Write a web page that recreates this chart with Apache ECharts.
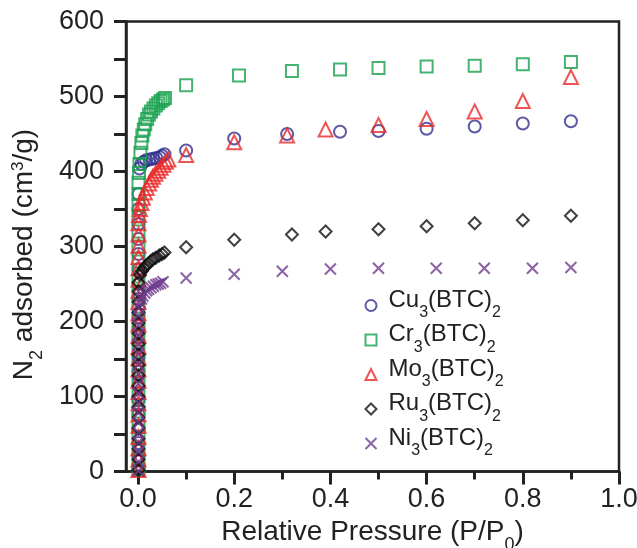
<!DOCTYPE html>
<html>
<head>
<meta charset="utf-8">
<script src="https://cdn.jsdelivr.net/npm/echarts@6/dist/echarts.min.js"></script>
<style>
html,body{margin:0;padding:0;background:#fff;}
#chart{width:637px;height:548px;}
</style>
</head>
<body>
<div id="chart"></div>
<script>
// ---------- data ----------
var seriesNames = ['Cu3(BTC)2', 'Cr3(BTC)2', 'Mo3(BTC)2', 'Ru3(BTC)2', 'Ni3(BTC)2'];

var cuP = [0.001,0.001,0.001,0.001,0.001,0.001,0.001,0.001,0.001,0.001,0.001,0.001,0.001,0.001,0.001,0.001,0.001,0.001,0.001,0.001,
           0.003,0.007,0.012,0.017,0.024,0.031,0.038,0.045,0.050,0.055,
           0.10,0.20,0.31,0.42,0.50,0.60,0.70,0.80,0.90];
var cuV = [3,20,38,57,76,95,114,133,152,171,190,210,230,250,270,290,310,330,350,370,
           404,410,413,415,416,417,418,419,421,423,
           428,444,450,453,454,457,460,464,467];

var crP = [0.001,0.001,0.001,0.001,0.001,0.001,0.001,0.001,0.001,0.001,0.001,0.001,0.001,0.001,0.001,0.001,0.001,0.001,0.001,0.001,0.001,0.001,
           0.002,0.003,0.005,0.007,0.009,0.012,0.015,0.019,0.023,0.027,0.032,0.037,0.042,0.047,0.052,0.056,
           0.10,0.21,0.32,0.42,0.50,0.60,0.70,0.80,0.90];
var crV = [2,15,30,45,60,80,100,120,140,160,180,200,220,240,260,280,300,320,340,355,370,385,
           398,410,425,438,448,456,463,470,476,480,484,488,491,494,496,498,
           515,528,534,536,538,540,541,543,546];

var moP = [0.001,0.001,0.001,0.001,0.001,0.001,0.001,0.001,0.001,0.001,0.001,0.001,0.001,0.001,0.001,0.001,0.001,0.001,0.001,0.001,0.001,0.001,0.001,
           0.002,0.004,0.007,0.010,0.014,0.018,0.023,0.027,0.031,0.036,0.042,0.047,0.053,0.058,0.063,
           0.10,0.20,0.31,0.39,0.50,0.60,0.70,0.80,0.90];
var moV = [2,16,31,46,61,76,91,106,121,136,151,166,181,196,211,226,241,256,271,286,301,316,331,
           342,350,358,365,372,378,384,389,393,397,401,405,409,413,416,
           422,439,448,456,462,470,480,494,526];

var ruP = [0.001,0.001,0.001,0.001,0.001,0.001,0.001,0.001,0.001,0.001,0.001,0.001,0.001,0.001,0.001,0.001,0.001,0.001,
           0.001,0.004,0.008,0.012,0.016,0.021,0.026,0.031,0.037,0.044,0.050,0.055,
           0.10,0.20,0.32,0.39,0.50,0.60,0.70,0.80,0.90];
var ruV = [2,16,30,44,58,72,86,100,114,128,142,156,170,184,198,212,226,240,
           252,262,267,271,274,277,280,283,285,288,290,292,
           299,309,316,320,323,327,331,335,341];

var niP = [0.001,0.001,0.001,0.001,0.001,0.001,0.001,0.001,0.001,0.001,0.001,0.001,0.001,0.001,0.001,0.001,0.001,
           0.002,0.004,0.007,0.010,0.014,0.018,0.022,0.027,0.032,0.037,0.042,0.047,0.052,
           0.10,0.20,0.30,0.40,0.50,0.62,0.72,0.82,0.90];
var niV = [1,13,26,39,52,65,78,91,104,117,130,143,156,169,182,195,208,
           218,225,230,234,238,241,243,245,247,249,250,251,253,
           258,263,267,270,271,271,271,271,272];

var xMajorTicks = [0, 0.2, 0.4, 0.6, 0.8, 1.0];
var xMinorTicks = [0.1, 0.3, 0.5, 0.7, 0.9];

// ---------- build ----------
function pairs(p, v) { var out = []; for (var i = 0; i < p.length; i++) out.push([p[i], v[i]]); return out; }

var FONT = 'Liberation Sans, Arial, Helvetica, sans-serif';
var AX = '#222';
var colors = {Cu: '#33308e', Cr: '#17a04c', Mo: '#ea2a2a', Ru: '#111111', Ni: '#6e3b8f'};
var crossPath = 'path://M0,0L10,10M0,10L10,0';

function mk(name, data, symbol, size, color) {
  return {
    type: 'scatter', name: name, data: data, symbol: symbol, symbolSize: size,
    itemStyle: {color: 'rgba(0,0,0,0)', borderColor: color, borderWidth: 2},
    emphasis: {disabled: true}, animation: false
  };
}

// draw order (bottom to top)
var series = [
  mk(seriesNames[0], pairs(cuP, cuV), 'circle', 12, colors.Cu),
  mk(seriesNames[1], pairs(crP, crV), 'rect', 12, colors.Cr),
  mk(seriesNames[2], pairs(moP, moV), 'triangle', 14, colors.Mo),
  mk(seriesNames[3], pairs(ruP, ruV), 'diamond', 12, colors.Ru),
  mk(seriesNames[4], pairs(niP, niV), crossPath, 11, colors.Ni)
];

function richName(n) {
  var m = n.match(/^([A-Za-z]+)(\d)(\(BTC\))(\d)$/);
  return '{n|' + m[1] + '}{s|' + m[2] + '}{n|' + m[3] + '}{s|' + m[4] + '}';
}

var chart = echarts.init(document.getElementById('chart'), null, {renderer: 'canvas'});
chart.setOption({
  backgroundColor: '#fff',
  animation: false,
  grid: {left: 126, right: 18, top: 21.5, bottom: 76.5, show: true, borderColor: AX, borderWidth: 2.5,
    backgroundColor: 'transparent', containLabel: false, outerBoundsMode: 'none'},
  legend: {
    data: seriesNames,
    orient: 'vertical', left: 359.5, top: 283,
    itemWidth: 11, itemHeight: 11, itemGap: 1.5,
    selectedMode: false,
    formatter: function (n) { return richName(n); },
    textStyle: {
      fontFamily: FONT, color: AX, padding: [0, 0, 0, 7],
      rich: {
        n: {fontFamily: FONT, fontSize: 24, color: AX, lineHeight: 35, verticalAlign: 'top'},
        s: {fontFamily: FONT, fontSize: 16, color: AX, lineHeight: 14, verticalAlign: 'top', padding: [17, 0, 0, 0]}
      }
    }
  },
  xAxis: [{
    type: 'value', min: -0.025, max: 1.0, position: 'bottom',
    axisLine: {show: true, onZero: false, lineStyle: {color: AX, width: 2.5}},
    axisTick: {show: true, inside: false, length: 13, customValues: xMajorTicks, lineStyle: {color: AX, width: 3}},
    axisLabel: {show: true, customValues: xMajorTicks, margin: 15, fontFamily: FONT, fontSize: 27, color: AX,
      formatter: function (v) { return v.toFixed(1); }},
    splitLine: {show: false},
    name: '{n|Relative Pressure (P/P}{s|0}{n|)}', nameLocation: 'middle', nameGap: 38,
    nameTextStyle: {rich: {
      n: {fontFamily: FONT, fontSize: 28, color: AX, lineHeight: 30, verticalAlign: 'top'},
      s: {fontFamily: FONT, fontSize: 18, color: AX, lineHeight: 16, verticalAlign: 'top', padding: [18, 0, 0, 0]}
    }}
  }, {
    type: 'value', min: -0.025, max: 1.0, position: 'bottom',
    axisLine: {show: false, onZero: false},
    axisTick: {show: true, inside: false, length: 8, customValues: xMinorTicks, lineStyle: {color: AX, width: 3}},
    axisLabel: {show: false},
    splitLine: {show: false}
  }],
  yAxis: {
    type: 'value', min: 0, max: 600, interval: 100,
    axisLine: {show: true, onZero: false, lineStyle: {color: AX, width: 2.5}},
    axisTick: {show: true, inside: false, length: 12, lineStyle: {color: AX, width: 3}},
    minorTick: {show: true, splitNumber: 2, length: 12, lineStyle: {color: AX, width: 3}},
    axisLabel: {margin: 22, fontFamily: FONT, fontSize: 27, color: AX},
    splitLine: {show: false},
    name: '{n|N}{s|2}{n| adsorbed (cm}{p|3}{n|/g)}', nameLocation: 'middle', nameGap: 86, nameRotate: 90,
    nameTextStyle: {padding: [0, 16, 0, 0], rich: {
      n: {fontFamily: FONT, fontSize: 28, color: AX, lineHeight: 30, verticalAlign: 'top'},
      s: {fontFamily: FONT, fontSize: 18, color: AX, lineHeight: 16, verticalAlign: 'top', padding: [18, 0, 0, 0]},
      p: {fontFamily: FONT, fontSize: 17, color: AX, lineHeight: 16, verticalAlign: 'top', padding: [0, 0, 0, 0]}
    }}
  },
  series: series
});
</script>
</body>
</html>
